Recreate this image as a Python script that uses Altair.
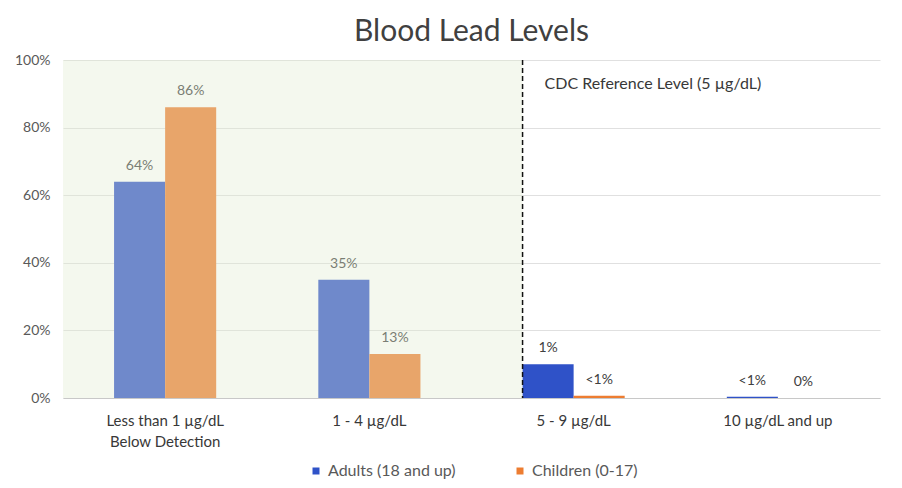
import altair as alt
import pandas as pd

categories = ["Less than 1 µg/dL|Below Detection", "1 - 4 µg/dL", "5 - 9 µg/dL", "10 µg/dL and up"]
groups = ["Adults (18 and up)", "Children (0-17)"]
adults = [64, 35, 10, 0.4]
children = [86, 13, 0.7, 0]
adult_labels = ["64%", "35%", "1%", "<1%"]
child_labels = ["86%", "13%", "<1%", "0%"]
colors = ["#2f52c8", "#ed7d31"]
ref_text = ["CDC Reference Level (5 µg/dL)"]

rows = []
for i, c in enumerate(categories):
    rows.append({"cat": c, "group": groups[0], "value": adults[i], "label": adult_labels[i]})
    rows.append({"cat": c, "group": groups[1], "value": children[i], "label": child_labels[i]})
df = pd.DataFrame(rows)

xenc = alt.X("cat:N", sort=categories,
             scale=alt.Scale(domain=categories, paddingInner=0, paddingOuter=0),
             axis=alt.Axis(title=None, labelAngle=0, ticks=False, domainColor="#c8c8c8",
                           labelPadding=15, labelFontSize=15, labelColor="#383838",
                           labelExpr="split(datum.label, '|')", labelLineHeight=21,
                           labelLimit=0))
xoff = alt.XOffset("group:N", sort=groups, scale=alt.Scale(paddingOuter=1, paddingInner=0))
yenc = alt.Y("value:Q", scale=alt.Scale(domain=[0, 100], nice=False),
             axis=alt.Axis(values=[0, 20, 40, 60, 80, 100], labelExpr="datum.value + '%'",
                           domain=False, ticks=False, labelPadding=13, labelFontSize=14,
                           labelColor="#595959", gridColor="#e0e0e0", title=None))

base = alt.Chart(df)
bars = base.mark_bar().encode(
    x=xenc, xOffset=xoff, y=yenc,
    color=alt.Color("group:N", sort=groups, scale=alt.Scale(domain=groups, range=colors),
                    legend=alt.Legend(orient="none", direction="horizontal", legendX=245,
                                      legendY=403, title=None, symbolType="square",
                                      symbolSize=49, labelFontSize=16, labelColor="#595959",
                                      columnPadding=56, symbolStrokeWidth=0, labelOffset=4)),
)
labels = base.mark_text(baseline="middle", dy=-16, fontSize=14, color="#404040").encode(
    x=alt.X("cat:N", sort=categories), xOffset=alt.XOffset("group:N", sort=groups),
    y="value:Q", text="label:N")

one = pd.DataFrame({"t": ref_text})
shade = alt.Chart(one).mark_rect(fill="#e1ebd0", opacity=0.36).encode(
    x=alt.XDatum(categories[0], bandPosition=0, type="nominal"),
    x2=alt.X2Datum(categories[2], bandPosition=0.25),
    y=alt.YDatum(100, type="quantitative"),
    y2=alt.Y2Datum(0))
rule = alt.Chart(one).mark_rule(strokeDash=[5, 3], color="#111111", strokeWidth=1.5).encode(
    x=alt.XDatum(categories[2], bandPosition=0.25, type="nominal"))
cdc = alt.Chart(one).mark_text(align="left", baseline="middle", dx=22, fontSize=16,
                               color="#383838").encode(
    x=alt.XDatum(categories[2], bandPosition=0.25, type="nominal"),
    y=alt.YDatum(93, type="quantitative"),
    text="t:N")

chart = alt.layer(bars, labels, shade, rule, cdc).properties(
    width=817, height=338,
    autosize=alt.AutoSizeParams(type="none"),
    padding={"left": 55, "top": 52, "right": 10, "bottom": 82},
    background="white",
    title=alt.TitleParams("Blood Lead Levels", fontSize=30, font="Lato", color="#404040",
                          fontWeight="normal", anchor="middle", offset=6),
).configure(font="Lato").configure_view(stroke=None)

chart.save("out.html", embed_options={"renderer": "svg", "actions": False})
